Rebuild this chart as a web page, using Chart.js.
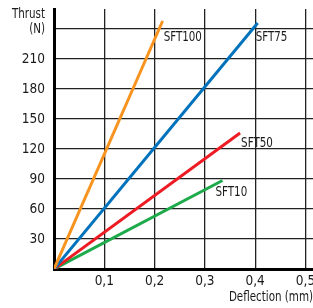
<!DOCTYPE html>
<html><head><meta charset="utf-8">
<script src="https://cdn.jsdelivr.net/npm/chart.js@4"></script>
<style>html,body{margin:0;padding:0;background:#fff}canvas{display:block}</style>
</head><body>
<canvas id="c" width="313" height="308"></canvas>
<script>
const seriesNames = ["SFT100", "SFT75", "SFT50", "SFT10"];
const deflection = [[0, 0.216], [0, 0.405], [0, 0.37], [0, 0.335]];
const thrust = [[0, 248], [0, 246], [0, 136], [0, 88.5]];
const yTicks = [0, 30, 60, 90, 120, 150, 180, 210, 240];
const xTicks = [0, 0.1, 0.2, 0.3, 0.4, 0.5];
const xTickLabels = ["", "0,1", "0,2", "0,3", "0,4", "0,5"];
const yTitle = ["Thrust", "(N)"];
const xTitle = "Deflection (mm)";

const colors = ["#F7931E", "#0072BC", "#ED1C24", "#1DAA4A"];
const labelOffsets = [[1, 16], [-2, 14], [1, 10], [-7, 12]];
const FAMILY = "'DejaVu Sans'";
const FONTSTR = "condensed 14px " + FAMILY;
const SQUEEZE = 0.82;

const datasets = seriesNames.map((n, i) => ({
  label: n,
  data: deflection[i].map((x, j) => ({x: x, y: thrust[i][j]})),
  borderColor: colors[i],
  borderWidth: 3,
  pointRadius: 0,
  fill: false,
  tension: 0
}));

function squeezedText(ctx, text, x, y) {
  ctx.save();
  ctx.translate(x, y);
  ctx.scale(SQUEEZE, 1);
  ctx.fillText(text, 0, 0);
  ctx.restore();
}

const textPlugin = {
  id: 'texts',
  afterDatasetsDraw(chart) {
    const ctx = chart.ctx;
    const xs = chart.scales.x, ys = chart.scales.y;
    ctx.save();
    ctx.fillStyle = '#1a1a1a';
    ctx.font = FONTSTR;
    ctx.textBaseline = 'middle';
    ctx.textAlign = 'left';
    seriesNames.forEach((n, i) => {
      const last = deflection[i].length - 1;
      const px = xs.getPixelForValue(deflection[i][last]) + labelOffsets[i][0];
      const py = ys.getPixelForValue(thrust[i][last]) + labelOffsets[i][1];
      squeezedText(ctx, n, px, py);
    });
    ctx.textAlign = 'right';
    const y240 = ys.getPixelForValue(240);
    squeezedText(ctx, yTitle[0], 45, y240 - 15);
    squeezedText(ctx, yTitle[1], 45, y240);
    squeezedText(ctx, xTitle, 313, 297);
    ctx.restore();
  }
};

new Chart(document.getElementById('c'), {
  type: 'line',
  data: { datasets },
  options: {
    responsive: false,
    animation: false,
    layout: { padding: { top: 9, right: 0, left: 0, bottom: 0 } },
    plugins: { legend: { display: false }, tooltip: { enabled: false } },
    scales: {
      x: {
        type: 'linear', min: 0, max: 0.515,
        afterBuildTicks(s) { s.ticks = xTicks.map(v => ({value: v})); },
        afterFit(s) { s.height = 39; s.paddingLeft = 0; s.paddingRight = 0; },
        ticks: {
          callback: (v, i) => xTickLabels[i],
          color: '#1a1a1a', padding: 4,
          font: { family: FAMILY, size: 13.5, weight: 'condensed' },
          maxRotation: 0, autoSkip: false
        },
        grid: { color: '#222', lineWidth: 1.3, drawTicks: false },
        border: { color: '#000', width: 3 }
      },
      y: {
        min: 0, max: 260,
        afterBuildTicks(s) { s.ticks = yTicks.map(v => ({value: v})); },
        afterFit(s) { s.width = 54; s.paddingTop = 0; s.paddingBottom = 0; },
        ticks: {
          callback: (v) => (v === 0 || v === 240) ? '' : String(v),
          color: '#1a1a1a', padding: 9,
          font: { family: FAMILY, size: 13.5, weight: 'condensed' },
          autoSkip: false
        },
        grid: { color: '#222', lineWidth: 1.3, drawTicks: false },
        border: { color: '#000', width: 3 }
      }
    }
  },
  plugins: [textPlugin]
});
</script>
</body></html>
